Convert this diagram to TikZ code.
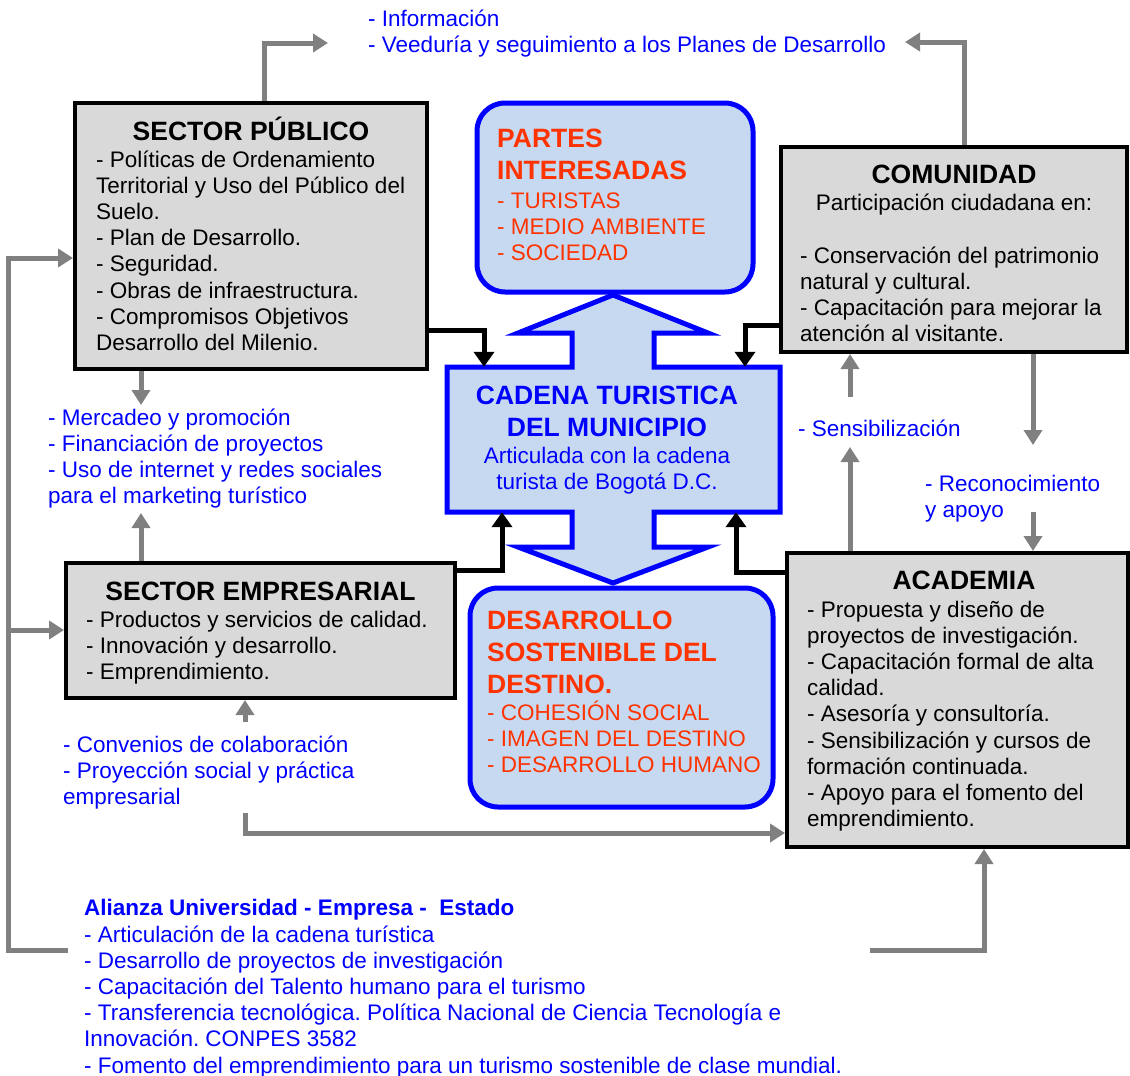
\documentclass[tikz,border=0pt]{standalone}
\usepackage{fontspec}
\setmainfont{Liberation Sans}
\usetikzlibrary{arrows.meta, positioning}
\definecolor{paleblue}{RGB}{198,217,241}
\definecolor{boxgrey}{RGB}{217,217,217}
\definecolor{linkgrey}{RGB}{128,128,128}
\definecolor{txtblue}{RGB}{0,0,255}
\definecolor{txtred}{RGB}{255,51,0}
\newcommand{\txtsize}{\fontsize{22.5}{26.2}\selectfont}
\newcommand{\ttlsize}{\fontsize{26.5}{32}\selectfont\bfseries}
\frenchspacing

\begin{document}
\begin{tikzpicture}[x=1pt, y=-1pt,
  actor/.style={draw=black, line width=4pt, fill=boxgrey, inner sep=0pt},
  goal/.style={draw=txtblue, line width=5pt, fill=paleblue, rounded corners=28pt, inner sep=0pt},
  ttl/.style={font=\ttlsize, inner sep=0pt, anchor=base},
  body/.style={font=\txtsize, align=left, inner sep=0pt, anchor=base west},
  note/.style={body, text=txtblue},
  goalttl/.style={body, font=\ttlsize, text=txtred},
  goaltxt/.style={body, text=txtred},
  greyarrow/.style={draw=linkgrey, line width=5pt, -{Triangle[length=15pt,width=18pt]}},
  blackarrow/.style={draw=black, line width=5pt, -{Triangle[length=15pt,width=20pt]}}]
  \useasboundingbox (0,0) rectangle (1130,1076);
  % text blocks are placed by the baseline of their last line

  % double arrow with the chain in the middle
  \draw[draw=txtblue, line width=5pt, fill=paleblue, line join=miter]
    (613,295) -- (708,333) -- (654,333) -- (654,367) -- (780,367) -- (780,512)
    -- (654,512) -- (654,547) -- (708,547) -- (613,583) -- (518,547) -- (572,547)
    -- (572,512) -- (447,512) -- (447,367) -- (572,367) -- (572,333) -- (518,333) -- cycle;
  \node[minimum width=333pt, minimum height=145pt, inner sep=0pt] (cad) at (613.5,439.5) {};
  \node[ttl, text=txtblue, align=center] (cadttl) at (607,436) {CADENA TURISTICA\\DEL MUNICIPIO};
  \node[body, text=txtblue, align=center, anchor=base] (cadtxt) at (607,489.2) {Articulada con la cadena\\turista de Bogotá D.C.};

  % stakeholders and outcome
  \node[goal, minimum width=276pt, minimum height=189pt] (par) at (615,197.5) {};
  \node[goalttl] (parttl) at (497,179) {PARTES\\INTERESADAS};
  \node[goaltxt] (partxt) at (497,260.4) {- TURISTAS\\- MEDIO AMBIENTE\\- SOCIEDAD};

  \node[goal, minimum width=303pt, minimum height=219pt] (des) at (621.5,697.5) {};
  \node[goalttl] (desttl) at (487,693) {DESARROLLO\\SOSTENIBLE DEL\\DESTINO.};
  \node[goaltxt] (destxt) at (487,772.4) {- COHESIÓN SOCIAL\\- IMAGEN DEL DESTINO\\- DESARROLLO HUMANO};

  % the four actors
  \node[actor, minimum width=352pt, minimum height=266pt] (pub) at (251,236) {};
  \node[ttl] (pubttl) at (251,140) {SECTOR PÚBLICO};
  \node[body] (pubtxt) at (96,350.4) {- Políticas de Ordenamiento\\Territorial y Uso del Público del\\Suelo.\\- Plan de Desarrollo.\\- Seguridad.\\- Obras de infraestructura.\\- Compromisos Objetivos\\Desarrollo del Milenio.};

  \node[actor, minimum width=389pt, minimum height=135pt] (emp) at (260.5,630.5) {};
  \node[ttl] (empttl) at (260.5,600) {SECTOR EMPRESARIAL};
  \node[body] (emptxt) at (86,679.4) {- Productos y servicios de calidad.\\- Innovación y desarrollo.\\- Emprendimiento.};

  \node[actor, minimum width=346pt, minimum height=205pt] (com) at (954,249.5) {};
  \node[ttl] (comttl) at (954,183) {COMUNIDAD};
  \node[body, anchor=base] (comsub) at (954,210) {Participación ciudadana en:};
  \node[body] (comtxt) at (800,341.6) {- Conservación del patrimonio\\natural y cultural.\\- Capacitación para mejorar la\\atención al visitante.};

  \node[actor, minimum width=341pt, minimum height=294pt] (aca) at (957.5,700) {};
  \node[ttl] (acattl) at (964,589) {ACADEMIA};
  \node[body] (acatxt) at (807,826.6) {- Propuesta y diseño de\\proyectos de investigación.\\- Capacitación formal de alta\\calidad.\\- Asesoría y consultoría.\\- Sensibilización y cursos de\\formación continuada.\\- Apoyo para el fomento del\\emprendimiento.};

  % blue notes
  \node[note] (info) at (368,52.2) {- Información\\- Veeduría y seguimiento a los Planes de Desarrollo};
  \node[note] (mkt) at (48,503.6) {- Mercadeo y promoción\\- Financiación de proyectos\\- Uso de internet y redes sociales\\para el marketing turístico};
  \node[note] (conv) at (63,804.4) {- Convenios de colaboración\\- Proyección social y práctica\\empresarial};
  \node[note] (sens) at (798,436) {- Sensibilización};
  \node[note] (reco) at (925,517.2) {- Reconocimiento\\y apoyo};
  \node[note] (alz) at (84,1073) {\textbf{Alianza Universidad - Empresa -~ Estado}\\- Articulación de la cadena turística\\- Desarrollo de proyectos de investigación\\- Capacitación del Talento humano para el turismo\\- Transferencia tecnológica. Política Nacional de Ciencia Tecnología e\\Innovación. CONPES 3582\\- Fomento del emprendimiento para un turismo sostenible de clase mundial.};

  % loose ends of the grey links
  \coordinate (infoL) at (328,43);
  \coordinate (infoR) at (905,42);
  \coordinate (mktin) at (141,405);
  \coordinate (mktout) at (141,513);
  \coordinate (convup) at (245,722);
  \coordinate (convdown) at (245,813);
  \coordinate (alzL) at (68,950);
  \coordinate (alzR) at (870,950);
  \coordinate (loop) at (8,258);
  \coordinate (sensin) at (850,447);
  \coordinate (sensout) at (850,397);
  \coordinate (recoin) at (1033,445);
  \coordinate (recoout) at (1033,512);

  % black links into the chain
  \draw[blackarrow] (pub.east |- 0,330) -| (cad.north -| 484,0);
  \draw[blackarrow] (com.west |- 0,325) -| (cad.north -| 745,0);
  \draw[blackarrow] (emp.east |- 0,570) -| (cad.south -| 502,0);
  \draw[blackarrow] (aca.west |- 0,572) -| (cad.south -| 736,0);

  % grey links
  \draw[greyarrow] (pub.north -| 264,0) |- (infoL);
  \draw[greyarrow] (com.north -| 964,0) |- (infoR);
  \draw[greyarrow] (pub.south -| 141,0) -- (mktin);
  \draw[greyarrow] (emp.north -| 141,0) -- (mktout);
  \draw[greyarrow] (convup) -- (emp.south -| 245,0);
  \draw[greyarrow] (convdown) |- (aca.west |- 0,833);
  \draw[greyarrow] (alzL) -| (loop) -- (pub.west |- loop);
  \draw[greyarrow] (8,630) -- (emp.west |- 0,630);
  \draw[greyarrow] (alzR) -| (aca.south -| 984,0);
  \draw[greyarrow] (aca.north -| 850,0) -- (sensin);
  \draw[greyarrow] (sensout) -- (com.south -| 850,0);
  \draw[greyarrow] (com.south -| 1033,0) -- (recoin);
  \draw[greyarrow] (recoout) -- (aca.north -| 1033,0);
\end{tikzpicture}
\end{document}
